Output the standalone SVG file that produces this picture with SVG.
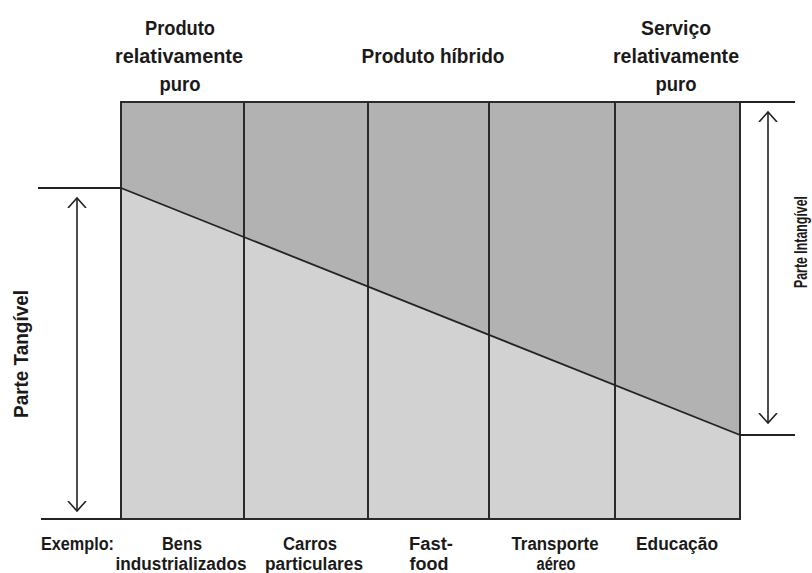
<svg xmlns="http://www.w3.org/2000/svg" width="812" height="573" viewBox="0 0 812 573">
  <defs>
    <style>
      .t { font-family: "Liberation Sans Narrow", "Liberation Sans", Arial, sans-serif; font-weight: bold; fill: #1a1a1a; }
      .top { font-size: 21px; text-anchor: middle; }
      .bot { font-size: 18px; text-anchor: middle; }
      .ln { stroke: #222; stroke-width: 1.8; fill: none; }
      .grid { stroke: #2a2a2a; stroke-width: 2; fill: none; }
      .arr { stroke: #222; stroke-width: 1.6; fill: none; }
    </style>
    <marker id="head" viewBox="0 0 20 20" refX="10" refY="10" markerWidth="20" markerHeight="20" markerUnits="userSpaceOnUse" orient="auto-start-reverse">
      <path d="M0,1 L10,10 L0,19" fill="none" stroke="#222" stroke-width="1.6"/>
    </marker>
  </defs>
  <rect width="812" height="573" fill="#ffffff"/>

  <g id="chart">
    <polygon points="121,102 740,102 740,435 121,188" fill="#b2b2b2"/>
    <polygon points="121,188 740,435 740,519 121,519" fill="#d2d2d2"/>
    <g id="columns" class="grid">
      <line x1="244" y1="102" x2="244" y2="519"/>
      <line x1="368" y1="102" x2="368" y2="519"/>
      <line x1="489" y1="102" x2="489" y2="519"/>
      <line x1="615" y1="102" x2="615" y2="519"/>
      <rect x="121" y="102" width="619" height="417"/>
    </g>
    <line class="ln" x1="121" y1="188" x2="740" y2="435"/>
  </g>

  <g id="connectors">
    <line class="ln" x1="38" y1="188" x2="121" y2="188"/>
    <line class="ln" x1="41" y1="519" x2="121" y2="519"/>
    <line class="ln" x1="740" y1="102" x2="795" y2="102"/>
    <line class="ln" x1="740" y1="435" x2="795" y2="435"/>
    <line class="arr" x1="77" y1="198" x2="77" y2="511" marker-start="url(#head)" marker-end="url(#head)"/>
    <line class="arr" x1="768" y1="112" x2="768" y2="423" marker-start="url(#head)" marker-end="url(#head)"/>
  </g>

  <g id="label-produto-puro" class="t top">
    <text x="180" y="35" textLength="70" lengthAdjust="spacingAndGlyphs">Produto</text>
    <text x="179" y="63" textLength="128" lengthAdjust="spacingAndGlyphs">relativamente</text>
    <text x="180" y="91" textLength="41" lengthAdjust="spacingAndGlyphs">puro</text>
  </g>
  <g id="label-produto-hibrido" class="t top">
    <text x="433" y="63" textLength="143" lengthAdjust="spacingAndGlyphs">Produto híbrido</text>
  </g>
  <g id="label-servico-puro" class="t top">
    <text x="676" y="35" textLength="70" lengthAdjust="spacingAndGlyphs">Serviço</text>
    <text x="676" y="63" textLength="126" lengthAdjust="spacingAndGlyphs">relativamente</text>
    <text x="676" y="91" textLength="41" lengthAdjust="spacingAndGlyphs">puro</text>
  </g>

  <g id="label-tangivel" class="t">
    <text transform="translate(28,354) rotate(-90)" font-size="19.5" text-anchor="middle" textLength="128" lengthAdjust="spacingAndGlyphs">Parte Tangível</text>
  </g>
  <g id="label-intangivel" class="t">
    <text transform="translate(807,242) rotate(-90)" font-size="19" text-anchor="middle" textLength="92" lengthAdjust="spacingAndGlyphs">Parte Intangível</text>
  </g>

  <g id="examples" class="t bot">
    <text x="41" y="550" text-anchor="start" textLength="73" lengthAdjust="spacingAndGlyphs">Exemplo:</text>
    <text x="182" y="550" textLength="40" lengthAdjust="spacingAndGlyphs">Bens</text>
    <text x="181" y="570" textLength="131" lengthAdjust="spacingAndGlyphs">industrializados</text>
    <text x="310" y="550" textLength="54" lengthAdjust="spacingAndGlyphs">Carros</text>
    <text x="314" y="570" textLength="98" lengthAdjust="spacingAndGlyphs">particulares</text>
    <text x="431" y="550" textLength="44" lengthAdjust="spacingAndGlyphs">Fast-</text>
    <text x="429" y="570" textLength="39" lengthAdjust="spacingAndGlyphs">food</text>
    <text x="555" y="550" textLength="87" lengthAdjust="spacingAndGlyphs">Transporte</text>
    <text x="556" y="570" textLength="39" lengthAdjust="spacingAndGlyphs">aéreo</text>
    <text x="677" y="550" textLength="82" lengthAdjust="spacingAndGlyphs">Educação</text>
  </g>
</svg>
